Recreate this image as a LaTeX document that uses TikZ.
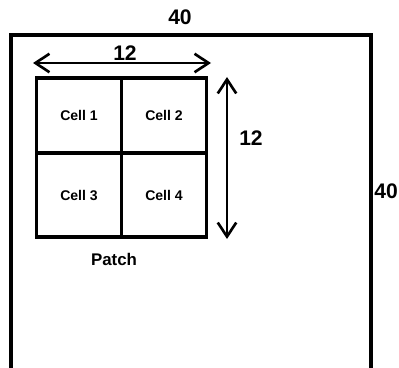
\documentclass[tikz,border=0pt]{standalone}
\usepackage{fontspec}
\setmainfont{Liberation Sans}
\usetikzlibrary{arrows.meta, positioning}

\begin{document}
\begin{tikzpicture}[x=0.02cm, y=-0.02cm,
    cellbox/.style={draw, line width=1.9pt, minimum width=85*0.02cm, font=\bfseries\fontsize{8}{9}\selectfont, inner sep=0pt},
    dimarrow/.style={line width=1.5pt, {Straight Barb[length=8pt,width=10.5pt]}-{Straight Barb[length=8pt,width=10.5pt]}},
    dimlabel/.style={font=\bfseries\fontsize{12}{14}\selectfont, inner sep=0pt}]
\useasboundingbox (0,0) rectangle (399,368);

% Outer area (40 x 40)
\draw[line width=1.9pt] (11,380) -- (11,35) -- (371,35) -- (371,380);
\node[dimlabel] (topforty) at (180,17) {40};
\node[dimlabel, anchor=west] (rightforty) at (374,191) {40};

% Patch with four cells
\node[cellbox, minimum height=75*0.02cm] (cell1) at (79,115.5) {Cell 1};
\node[cellbox, minimum height=75*0.02cm] (cell2) at (164,115.5) {Cell 2};
\node[cellbox, minimum height=84*0.02cm] (cell3) at (79,195) {Cell 3};
\node[cellbox, minimum height=84*0.02cm] (cell4) at (164,195) {Cell 4};
\node[font=\bfseries\fontsize{9.6}{11}\selectfont, inner sep=0pt] (patch) at (114,259) {Patch};

% Dimension arrows
\coordinate (hleft) at (33,63);
\coordinate (hright) at (211,63);
\coordinate (vtop) at (227,77);
\coordinate (vbottom) at (227,239);
\draw[dimarrow] (hleft) -- (hright);
\node[dimlabel] (hlabel) at (125,53) {12};
\draw[dimarrow] (vtop) -- (vbottom);
\node[dimlabel] (vlabel) at (251,138) {12};

\end{tikzpicture}
\end{document}
